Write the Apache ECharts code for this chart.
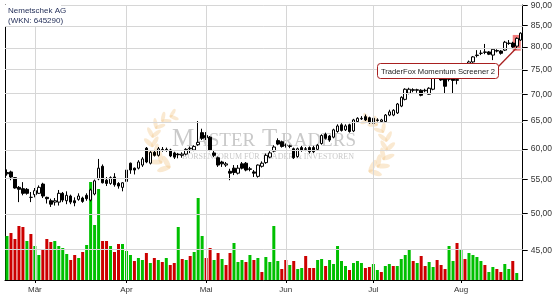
<!DOCTYPE html>
<html><head><meta charset="utf-8">
<script src="https://cdn.jsdelivr.net/npm/echarts@6.0.0/dist/echarts.min.js"></script>
<style>html,body{margin:0;padding:0;background:#fff}#c{width:555px;height:300px}</style>
</head><body><div id="c"></div>
<script>
// ---- data ----
const days = Array.from({length: 130}, (_, i) => 'T' + i);
const open = [56.1,56.2,55.3,53.8,53.6,53.5,52.3,52.7,52.9,54.3, 52.3,51.8,51.6,51.6,52.9,51.8,52.5,51.8,52.0,52.2, 52.6,51.9,52.8,55.1,57.1,54.9,54.4,55.4,54.4,53.8, 54.7,57.6,56.8,56.8,57.3,60.1,57.6,59.4,58.9,59.8, 59.8,59.8,59.3,59.1,58.9,59.1,60.0,59.8,60.7,62.8, 62.3,62.0,59.3,58.5,57.8,57.3,56.3,56.8,56.0,57.5, 57.6,56.6,56.2,55.5,57.1,57.7,58.6,59.6,61.4,61.2, 60.6,60.4,60.0,58.7,60.2,59.9,60.2,60.2,59.9,60.9, 62.5,62.2,62.0,63.0,64.2,63.3,64.2,63.1,64.8,65.3, 65.7,65.5,65.4,65.0,64.8,64.8,66.0,66.0,66.4,67.7, 69.0,70.2,70.9,70.8,70.8,70.7,70.0,71.0,73.9,73.9, 73.3,73.0,73.4,72.8,73.6,74.6,75.6,76.7,78.1,78.6, 78.8,78.9,78.2,79.2,79.1,79.3,80.8,80.9,80.2,81.6];
const close = [55.9,55.4,53.7,53.5,52.9,52.9,52.3,53.3,53.8,52.5, 52.1,51.3,51.8,52.9,51.9,52.6,51.6,51.5,52.5,51.7, 52.1,53.4,54.8,56.8,54.5,54.4,55.3,54.2,54.0,54.5, 56.5,56.5,56.5,57.8,58.3,57.8,59.4,58.9,60.0,59.9, 59.9,58.8,58.6,59.0,59.1,59.9,60.1,60.4,61.1,61.8, 61.9,59.8,58.9,57.3,57.5,57.5,56.0,56.1,56.8,56.8, 56.5,56.7,56.0,57.3,57.6,58.9,59.3,60.3,60.8,60.4, 60.6,60.5,58.5,60.0,59.8,60.0,59.5,59.5,60.6,62.3, 61.8,61.5,63.3,64.0,63.2,64.0,63.0,65.1,65.4,65.4, 65.1,64.6,64.5,65.1,65.1,66.0,66.6,66.9,68.1,69.4, 71.0,71.0,70.8,70.9,69.8,70.8,71.2,73.9,73.3,72.9, 71.6,73.2,72.8,73.0,74.5,75.4,76.7,77.8,78.2,78.6, 78.9,78.4,79.5,79.1,78.6,81.1,80.9,80.0,82.0,83.2];
const low = [55.6,54.9,53.6,51.6,52.6,52.7,51.6,52.3,52.8,52.2, 51.4,50.9,51.1,51.1,51.6,51.3,51.3,51.0,51.8,51.5, 51.8,51.7,52.6,54.9,54.4,54.0,54.2,53.9,53.6,53.2, 54.6,55.9,55.8,56.6,57.0,57.6,57.4,58.7,58.7,59.5, 59.5,58.6,58.3,58.4,58.5,58.9,59.3,59.6,60.5,61.5, 61.5,59.6,58.6,57.0,57.0,57.0,54.9,55.7,55.8,56.6, 56.3,56.3,55.4,55.3,56.9,57.5,58.4,59.4,60.6,60.2, 60.2,60.1,58.3,58.5,59.5,59.6,59.2,59.3,59.7,60.7, 61.6,61.2,61.8,62.8,63.0,63.1,62.8,62.9,64.6,65.1, 64.9,64.4,64.3,64.8,64.6,64.6,65.8,65.8,66.2,67.5, 68.8,70.0,70.4,70.3,69.6,70.4,69.9,70.8,73.1,72.7, 70.2,72.6,70.2,72.0,73.4,74.3,75.4,76.5,77.7,78.2, 78.4,78.2,77.1,78.8,78.3,79.1,80.5,79.8,79.5,81.4];
const high = [56.6,56.4,55.4,54.0,54.6,53.7,53.1,53.7,54.1,54.5, 52.4,52.1,52.2,53.4,53.1,53.2,52.7,52.3,52.9,52.4, 52.9,53.6,55.0,58.3,57.4,55.4,55.5,56.0,54.6,54.6, 56.7,57.7,56.9,58.1,58.6,60.3,59.6,59.8,60.3,60.3, 60.2,60.0,59.5,59.3,59.4,60.1,60.4,60.6,64.9,63.5, 62.9,62.2,59.8,58.7,58.0,57.8,56.7,57.3,57.3,57.8, 57.8,57.0,56.5,57.4,57.9,59.2,59.6,60.6,61.8,61.4, 60.9,60.7,60.2,60.2,60.5,60.3,60.4,60.5,60.8,62.5, 62.8,62.4,63.5,64.3,64.5,64.3,64.4,65.3,65.6,65.8, 66.1,65.7,65.6,65.4,65.3,66.2,67.0,67.1,68.3,69.6, 71.2,71.3,71.2,71.1,71.0,71.1,71.4,74.1,74.2,74.1, 73.5,73.6,73.8,73.9,74.8,75.6,77.0,78.0,79.3,79.3, 80.7,79.1,79.7,79.5,79.3,81.4,81.6,81.2,82.2,83.4];
const volume = [44,47,41,54,53,39,46,34,25,30, 41,38,39,34,32,26,20,25,22,28, 35,98,55,91,39,39,34,28,36,36, 29,25,19,22,20,27,17,22,20,18, 22,15,17,53,21,20,24,28,82,44, 22,32,20,27,21,15,27,37,18,20, 18,25,20,22,8,23,18,54,19,11, 20,15,19,11,12,24,12,12,20,21, 14,20,16,34,19,14,10,17,19,17, 12,13,16,10,8,14,16,14,14,21, 25,30,19,17,24,14,18,13,20,15, 11,34,19,37,31,21,27,25,23,19, 15,8,13,11,8,16,11,19,7,null];
const volumeUp = [1,0,0,0,0,1,0,1,1,0, 0,0,1,1,1,1,0,0,1,0, 1,1,1,1,0,0,1,0,0,1, 1,1,0,1,1,0,1,0,1,0, 1,0,0,1,0,1,0,1,1,1, 0,0,1,0,1,0,0,1,1,1, 0,1,0,1,0,1,1,1,1,0, 0,1,0,1,1,0,0,0,1,1, 0,1,1,1,1,1,0,1,1,1, 0,0,1,1,0,1,1,0,1,1, 1,1,0,1,0,0,1,1,0,0, 0,1,1,0,1,0,1,1,1,1, 0,1,1,0,0,1,1,0,1,1];
const monthIndex = [7, 30, 50, 70, 92, 114];
const monthLabels = ['Mär', 'Apr', 'Mai', 'Jun', 'Jul', 'Aug'];
const priceTicks = [45, 50, 55, 60, 65, 70, 75, 80, 85, 90];
const titleLines = ['Nemetschek AG', '(WKN: 645290)'];
const annotationText = 'TraderFox Momentum Screener 2';
const signalIndex = 128;

// ---- chart ----
const LN = Math.log;
const FONT = '"Liberation Sans", Arial, sans-serif';
const GRID = '#d6d6d6';
const chart = echarts.init(document.getElementById('c'), null, {renderer: 'canvas', width: 555, height: 300});

const candleData = days.map((_, i) => [LN(open[i]), LN(close[i]), LN(low[i]), LN(high[i])]);
const volData = volume.map((v, i) => ({value: v, itemStyle: {color: volumeUp[i] ? '#00c000' : '#cc0000'}}));

const option = {
  animation: false,
  backgroundColor: '#fff',
  grid: {left: 5, right: 30, top: 5, bottom: 20, containLabel: false},
  xAxis: {
    type: 'category', data: days, boundaryGap: true,
    axisLine: {show: true, lineStyle: {color: '#000', width: 1}},
    axisTick: {show: true, alignWithLabel: true, length: 3, interval: (i) => monthIndex.includes(i), lineStyle: {color: '#000'}},
    axisLabel: {show: true, interval: (i) => monthIndex.includes(i), formatter: (v, i) => monthLabels[monthIndex.indexOf(i)] || '',
      fontFamily: FONT, fontSize: 8, color: '#333', margin: 6},
    splitLine: {show: false}
  },
  yAxis: [
    {type: 'value', position: 'right', min: LN(41.4), max: LN(90.1),
     axisLine: {show: true, lineStyle: {color: '#000', width: 1}},
     axisTick: {show: true, length: 5, customValues: priceTicks.map(LN), lineStyle: {color: '#000'}},
     axisLabel: {show: true, customValues: priceTicks.map(LN), formatter: (v) => Math.exp(v).toFixed(2).replace('.', ','),
       fontFamily: FONT, fontSize: 8.5, color: '#333', margin: 8},
     splitLine: {show: false}},
    {type: 'value', position: 'left', min: 0, max: 275,
     axisLine: {show: true, lineStyle: {color: '#000', width: 1}},
     axisTick: {show: false}, axisLabel: {show: false}, splitLine: {show: false}}
  ],
  series: [
    {type: 'line', xAxisIndex: 0, yAxisIndex: 0, data: candleData.map(d => d[1]), z: 1,
     showSymbol: false, lineStyle: {opacity: 0}, silent: true,
     markLine: {silent: true, symbol: ['none', 'none'], label: {show: false}, animation: false,
       lineStyle: {color: GRID, type: 'solid', width: 1},
       emphasis: {disabled: true},
       data: [...priceTicks.map(p => ({yAxis: LN(p)})), ...monthIndex.map(i => ({xAxis: days[i]}))]}},
    {type: 'bar', xAxisIndex: 0, yAxisIndex: 1, data: volData, barWidth: 3, z: 2, silent: true},
    {type: 'candlestick', xAxisIndex: 0, yAxisIndex: 0, data: candleData, barWidth: 3, z: 3, silent: true,
     itemStyle: {color: '#fff', color0: '#000', borderColor: '#000', borderColor0: '#000', borderWidth: 1}}
  ]
};
chart.setOption(option);

// ---- decorations: watermark, title, annotation ----
function laurel(cx, cy, r, a0, a1, n, dir) {
  const els = [];
  for (let k = 0; k < n; k++) {
    const t = a0 + (a1 - a0) * k / (n - 1);
    const x = cx + r * Math.cos(t), y = cy + r * Math.sin(t);
    const tang = Math.atan2(Math.cos(t) * dir, -Math.sin(t) * dir);
    [-1, 1].forEach(s => {
      const ang = tang + s * 0.7;
      const sz = 1.1 - 0.4 * k / n;
      els.push({type: 'circle', x: x + Math.cos(ang) * 5 * sz, y: y + Math.sin(ang) * 5 * sz,
        rotation: -ang, scaleX: 2.7, scaleY: 1, shape: {cx: 0, cy: 0, r: 2.4 * sz},
        style: {fill: 'rgba(242,196,135,0.38)'}, silent: true, z: -1});
    });
  }
  return els;
}
const wm = '#c9c9c9';
const serif = '"Liberation Serif", "DejaVu Serif", serif';
const hiP = chart.convertToPixel({xAxisIndex: 0, yAxisIndex: 0}, [days[signalIndex], LN(high[signalIndex])]);
const loP = chart.convertToPixel({xAxisIndex: 0, yAxisIndex: 0}, [days[signalIndex], LN(low[signalIndex])]);
const hl = {x: hiP[0] - 4, y: hiP[1] - 2.5, w: 8, h: loP[1] - hiP[1] + 4};

chart.setOption({graphic: [
  ...laurel(179, 142, 27, Math.PI * 0.62, Math.PI * 1.4, 8, 1),
  ...laurel(360, 146, 27, Math.PI * 0.38, -Math.PI * 0.4, 8, -1),
  {type: 'text', x: 172, y: 152, silent: true, z: -1, style: {text: 'M', font: '25px ' + serif, fill: wm, verticalAlign: 'bottom'}},
  {type: 'text', x: 195, y: 150.5, silent: true, z: -1, style: {text: 'ASTER', font: '19px ' + serif, fill: wm, verticalAlign: 'bottom'}},
  {type: 'text', x: 262, y: 152, silent: true, z: -1, style: {text: 'T', font: '25px ' + serif, fill: wm, verticalAlign: 'bottom'}},
  {type: 'text', x: 281, y: 150.5, silent: true, z: -1, style: {text: 'RADERS', font: '19px ' + serif, fill: wm, verticalAlign: 'bottom'}},
  {type: 'text', x: 268, y: 157, silent: true, z: -1, style: {text: 'BÖRSENFORUM FÜR TRADER & INVESTOREN', font: '8px ' + serif, fill: wm, align: 'center', verticalAlign: 'middle'}},
  // title
  {type: 'rect', shape: {x: 5, y: 5, width: 56, height: 21}, style: {fill: '#fff'}, silent: true, z: 50},
  {type: 'text', x: 8, y: 7, silent: true, z: 51, style: {text: titleLines[0], font: '8px ' + FONT, fill: '#1e2a55', verticalAlign: 'top'}},
  {type: 'text', x: 8, y: 17, silent: true, z: 51, style: {text: titleLines[1], font: '8px ' + FONT, fill: '#1e2a55', verticalAlign: 'top'}},
  // signal highlight
  {type: 'rect', shape: {x: hl.x, y: hl.y, width: hl.w, height: hl.h}, style: {fill: 'rgba(238,80,80,0.75)'}, silent: true, z: 1},
  // annotation
  {type: 'line', shape: {x1: 498, y1: 67, x2: hl.x + 3, y2: hl.y + hl.h - 2}, style: {stroke: '#a82020', lineWidth: 1.3}, silent: true, z: 60},
  {type: 'rect', shape: {x: 377.5, y: 63.5, width: 121, height: 15, r: 3}, style: {fill: '#fff', stroke: '#a82020', lineWidth: 1}, silent: true, z: 61},
  {type: 'text', x: 438, y: 71.5, silent: true, z: 62, style: {text: annotationText, font: '7.6px ' + FONT, fill: '#222', align: 'center', verticalAlign: 'middle'}}
]});
</script>
</body></html>
